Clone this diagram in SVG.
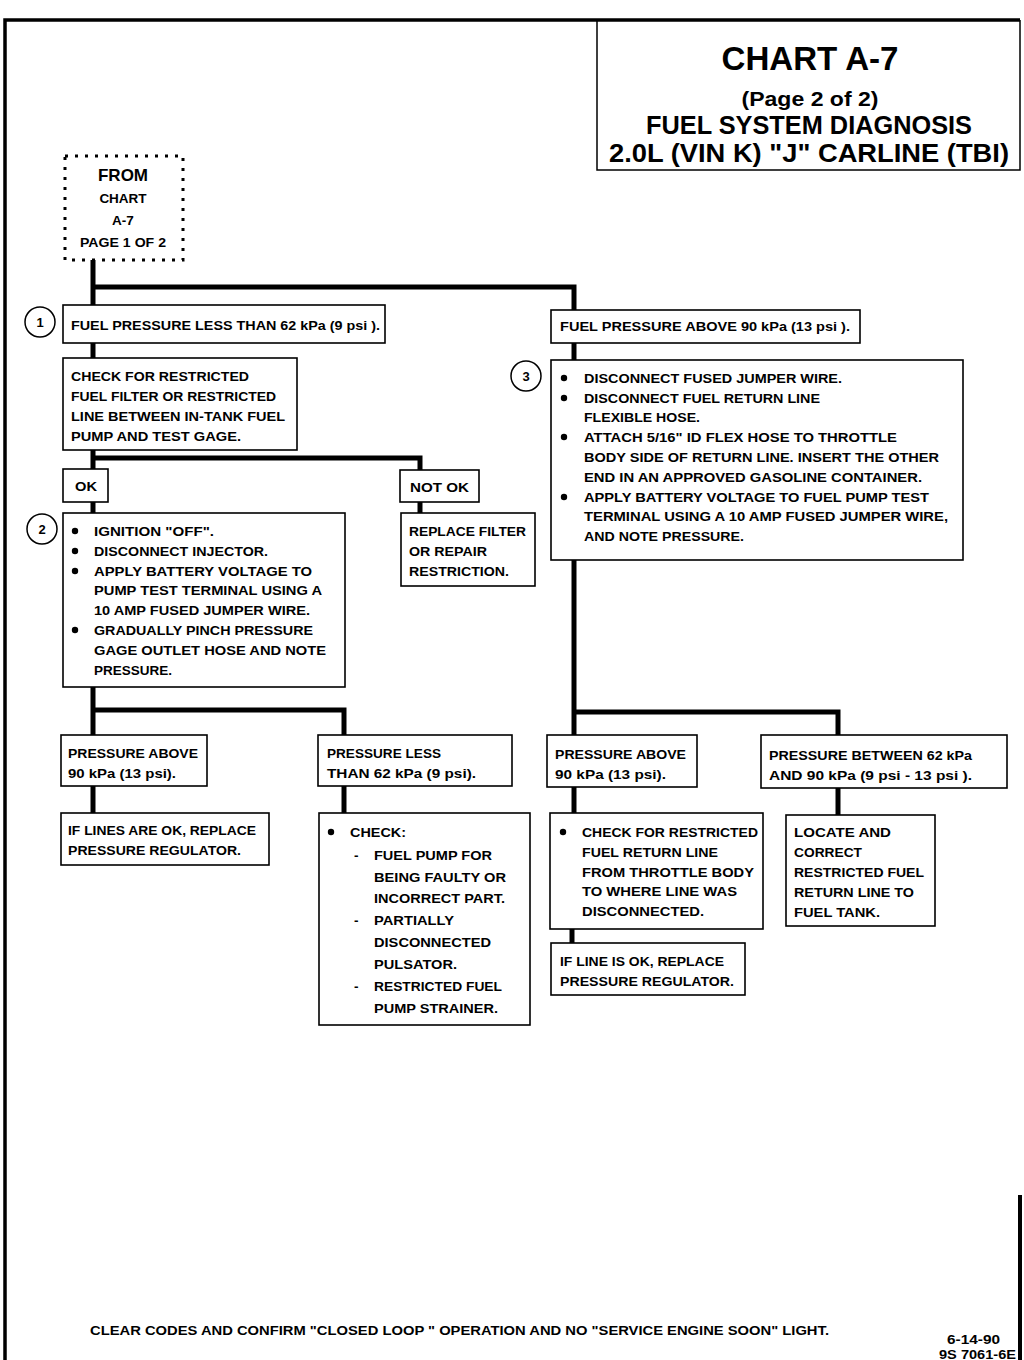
<svg xmlns="http://www.w3.org/2000/svg" width="1024" height="1360" viewBox="0 0 1024 1360">
<style>
text{font-family:"Liberation Sans",Arial,sans-serif;font-weight:bold;fill:#000}
.t{font-size:13.5px}
.box{fill:#fff;stroke:#000;stroke-width:1.6}
.conn{fill:none;stroke:#000;stroke-width:5;stroke-linejoin:miter;stroke-linecap:square}
.circ{fill:#fff;stroke:#000;stroke-width:1.5}
.num{font-size:13px;text-anchor:middle}
.title{text-anchor:middle}
</style>
<rect width="1024" height="1360" fill="#fff"/>
<g id="frame">
<path d="M5,1360 V20 H1020" fill="none" stroke="#000" stroke-width="3.5"/>
<path d="M597,20 V170 H1020 V20" fill="none" stroke="#000" stroke-width="1.5"/>
<path d="M1020,1195 V1360" fill="none" stroke="#000" stroke-width="4"/>
</g>
<g id="title">
<text class="title" x="810" y="70" font-size="33" textLength="177" lengthAdjust="spacingAndGlyphs">CHART A-7</text>
<text class="title" x="810" y="106" font-size="21" textLength="137" lengthAdjust="spacingAndGlyphs">(Page 2 of 2)</text>
<text class="title" x="809" y="134" font-size="25" textLength="326" lengthAdjust="spacingAndGlyphs">FUEL SYSTEM DIAGNOSIS</text>
<text class="title" x="809" y="162" font-size="25" textLength="400" lengthAdjust="spacingAndGlyphs">2.0L  (VIN K)  "J"  CARLINE  (TBI)</text>
</g>
<g id="connectors">
<path class="conn" d="M93,262 V305 M93,287 H574 V311"/>
<path class="conn" d="M93,343 V358"/>
<path class="conn" d="M93,450 V469 M93,458 H420 V470"/>
<path class="conn" d="M93,502 V513"/>
<path class="conn" d="M420,502 V513"/>
<path class="conn" d="M93,687 V735 M93,710 H344 V735"/>
<path class="conn" d="M93,786 V813"/>
<path class="conn" d="M344,786 V813"/>
<path class="conn" d="M574,343 V360"/>
<path class="conn" d="M574,560 V735 M574,712 H838 V735"/>
<path class="conn" d="M574,787 V813"/>
<path class="conn" d="M838,788 V815"/>
<path class="conn" d="M572,929 V943"/>
</g>
<g id="from">
<rect x="65" y="156" width="118" height="104" fill="#fff" stroke="#000" stroke-width="3" stroke-dasharray="3,7"/>
<text x="123" y="181" font-size="17" text-anchor="middle">FROM</text>
<text x="123" y="203" font-size="13.5" text-anchor="middle">CHART</text>
<text x="123" y="225" font-size="13.5" text-anchor="middle">A-7</text>
<text x="123" y="247" font-size="13.5" text-anchor="middle" textLength="86" lengthAdjust="spacingAndGlyphs">PAGE 1 OF 2</text>
</g>
<g id="n1">
<circle class="circ" cx="40" cy="322" r="15"/>
<text class="num" x="40" y="327">1</text>
<rect class="box" x="63" y="305" width="322" height="38"/>
<text class="t" x="71" y="330" textLength="309" lengthAdjust="spacingAndGlyphs">FUEL PRESSURE  LESS THAN 62 kPa (9 psi ).</text>
</g>
<g id="n1r">
<rect class="box" x="551" y="310" width="309" height="33"/>
<text class="t" x="560" y="331" textLength="290" lengthAdjust="spacingAndGlyphs">FUEL PRESSURE ABOVE 90 kPa (13 psi ).</text>
</g>
<g id="ncheck">
<rect class="box" x="63" y="358" width="234" height="92"/>
<text class="t" x="71" y="381" textLength="178" lengthAdjust="spacingAndGlyphs">CHECK FOR  RESTRICTED</text>
<text class="t" x="71" y="401" textLength="205" lengthAdjust="spacingAndGlyphs">FUEL FILTER OR RESTRICTED</text>
<text class="t" x="71" y="421" textLength="214" lengthAdjust="spacingAndGlyphs">LINE BETWEEN IN-TANK FUEL</text>
<text class="t" x="71" y="441" textLength="170" lengthAdjust="spacingAndGlyphs">PUMP AND TEST GAGE.</text>
</g>
<g id="nok">
<rect class="box" x="63" y="469" width="45" height="33"/>
<text class="t" x="75" y="491" textLength="22" lengthAdjust="spacingAndGlyphs">OK</text>
</g>
<g id="nnotok">
<rect class="box" x="400" y="470" width="79" height="32"/>
<text class="t" x="410" y="492" textLength="59" lengthAdjust="spacingAndGlyphs">NOT OK</text>
</g>
<g id="nreplace">
<rect class="box" x="401" y="513" width="134" height="73"/>
<text class="t" x="409" y="536" textLength="117" lengthAdjust="spacingAndGlyphs">REPLACE FILTER</text>
<text class="t" x="409" y="556" textLength="78" lengthAdjust="spacingAndGlyphs">OR REPAIR</text>
<text class="t" x="409" y="576" textLength="100" lengthAdjust="spacingAndGlyphs">RESTRICTION.</text>
</g>
<g id="n2">
<circle class="circ" cx="42" cy="529" r="15"/>
<text class="num" x="42" y="534">2</text>
<rect class="box" x="63" y="513" width="282" height="174"/>
<circle cx="75" cy="531" r="3.2"/>
<circle cx="75" cy="551" r="3.2"/>
<circle cx="75" cy="571" r="3.2"/>
<circle cx="75" cy="630" r="3.2"/>
<text class="t" x="94" y="536" textLength="120" lengthAdjust="spacingAndGlyphs">IGNITION "OFF".</text>
<text class="t" x="94" y="556" textLength="174" lengthAdjust="spacingAndGlyphs">DISCONNECT INJECTOR.</text>
<text class="t" x="94" y="576" textLength="218" lengthAdjust="spacingAndGlyphs">APPLY BATTERY VOLTAGE TO</text>
<text class="t" x="94" y="595" textLength="228" lengthAdjust="spacingAndGlyphs">PUMP TEST TERMINAL USING A</text>
<text class="t" x="94" y="615" textLength="216" lengthAdjust="spacingAndGlyphs">10 AMP FUSED JUMPER WIRE.</text>
<text class="t" x="94" y="635" textLength="219" lengthAdjust="spacingAndGlyphs">GRADUALLY PINCH PRESSURE</text>
<text class="t" x="94" y="655" textLength="232" lengthAdjust="spacingAndGlyphs">GAGE OUTLET HOSE AND NOTE</text>
<text class="t" x="94" y="675" textLength="78" lengthAdjust="spacingAndGlyphs">PRESSURE.</text>
</g>
<g id="nabove1">
<rect class="box" x="61" y="735" width="146" height="51"/>
<text class="t" x="68" y="758" textLength="130" lengthAdjust="spacingAndGlyphs">PRESSURE ABOVE</text>
<text class="t" x="68" y="778" textLength="108" lengthAdjust="spacingAndGlyphs">90 kPa  (13 psi).</text>
</g>
<g id="nless">
<rect class="box" x="318" y="735" width="194" height="51"/>
<text class="t" x="327" y="758" textLength="114" lengthAdjust="spacingAndGlyphs">PRESSURE LESS</text>
<text class="t" x="327" y="778" textLength="149" lengthAdjust="spacingAndGlyphs">THAN 62 kPa  (9 psi).</text>
</g>
<g id="nreg1">
<rect class="box" x="61" y="813" width="208" height="52"/>
<text class="t" x="68" y="835" textLength="188" lengthAdjust="spacingAndGlyphs">IF LINES ARE OK, REPLACE</text>
<text class="t" x="68" y="855" textLength="173" lengthAdjust="spacingAndGlyphs">PRESSURE REGULATOR.</text>
</g>
<g id="ncheck2">
<rect class="box" x="319" y="813" width="211" height="212"/>
<circle cx="331" cy="832" r="3.2"/>
<text class="t" x="350" y="837" textLength="56" lengthAdjust="spacingAndGlyphs">CHECK:</text>
<text class="t" x="354" y="860">-</text>
<text class="t" x="374" y="860" textLength="118" lengthAdjust="spacingAndGlyphs">FUEL PUMP FOR</text>
<text class="t" x="374" y="882" textLength="132" lengthAdjust="spacingAndGlyphs">BEING FAULTY OR</text>
<text class="t" x="374" y="903" textLength="131" lengthAdjust="spacingAndGlyphs">INCORRECT PART.</text>
<text class="t" x="354" y="925">-</text>
<text class="t" x="374" y="925" textLength="80" lengthAdjust="spacingAndGlyphs">PARTIALLY</text>
<text class="t" x="374" y="947" textLength="117" lengthAdjust="spacingAndGlyphs">DISCONNECTED</text>
<text class="t" x="374" y="969" textLength="83" lengthAdjust="spacingAndGlyphs">PULSATOR.</text>
<text class="t" x="354" y="991">-</text>
<text class="t" x="374" y="991" textLength="128" lengthAdjust="spacingAndGlyphs">RESTRICTED FUEL</text>
<text class="t" x="374" y="1013" textLength="124" lengthAdjust="spacingAndGlyphs">PUMP STRAINER.</text>
</g>
<g id="n3">
<circle class="circ" cx="526" cy="376" r="15"/>
<text class="num" x="526" y="381">3</text>
<rect class="box" x="551" y="360" width="412" height="200"/>
<circle cx="564" cy="378" r="3.2"/>
<circle cx="564" cy="398" r="3.2"/>
<circle cx="564" cy="437" r="3.2"/>
<circle cx="564" cy="497" r="3.2"/>
<text class="t" x="584" y="383" textLength="258" lengthAdjust="spacingAndGlyphs">DISCONNECT FUSED JUMPER WIRE.</text>
<text class="t" x="584" y="403" textLength="236" lengthAdjust="spacingAndGlyphs">DISCONNECT FUEL RETURN LINE</text>
<text class="t" x="584" y="422" textLength="116" lengthAdjust="spacingAndGlyphs">FLEXIBLE HOSE.</text>
<text class="t" x="584" y="442" textLength="313" lengthAdjust="spacingAndGlyphs">ATTACH 5/16" ID FLEX HOSE TO THROTTLE</text>
<text class="t" x="584" y="462" textLength="355" lengthAdjust="spacingAndGlyphs">BODY SIDE OF RETURN LINE.  INSERT THE OTHER</text>
<text class="t" x="584" y="482" textLength="338" lengthAdjust="spacingAndGlyphs">END IN AN APPROVED GASOLINE CONTAINER.</text>
<text class="t" x="584" y="502" textLength="345" lengthAdjust="spacingAndGlyphs">APPLY BATTERY VOLTAGE TO FUEL PUMP TEST</text>
<text class="t" x="584" y="521" textLength="364" lengthAdjust="spacingAndGlyphs">TERMINAL USING A 10 AMP FUSED JUMPER WIRE,</text>
<text class="t" x="584" y="541" textLength="160" lengthAdjust="spacingAndGlyphs">AND NOTE PRESSURE.</text>
</g>
<g id="nabove2">
<rect class="box" x="547" y="735" width="150" height="52"/>
<text class="t" x="555" y="759" textLength="131" lengthAdjust="spacingAndGlyphs">PRESSURE ABOVE</text>
<text class="t" x="555" y="779" textLength="111" lengthAdjust="spacingAndGlyphs">90 kPa  (13 psi).</text>
</g>
<g id="nbetween">
<rect class="box" x="761" y="735" width="246" height="53"/>
<text class="t" x="769" y="760" textLength="203" lengthAdjust="spacingAndGlyphs">PRESSURE BETWEEN 62 kPa</text>
<text class="t" x="769" y="780" textLength="203" lengthAdjust="spacingAndGlyphs">AND  90 kPa (9 psi  - 13 psi ).</text>
</g>
<g id="ncheck3">
<rect class="box" x="550" y="813" width="213" height="116"/>
<circle cx="563" cy="832" r="3.2"/>
<text class="t" x="582" y="837" textLength="176" lengthAdjust="spacingAndGlyphs">CHECK FOR RESTRICTED</text>
<text class="t" x="582" y="857" textLength="136" lengthAdjust="spacingAndGlyphs">FUEL RETURN LINE</text>
<text class="t" x="582" y="877" textLength="172" lengthAdjust="spacingAndGlyphs">FROM THROTTLE BODY</text>
<text class="t" x="582" y="896" textLength="155" lengthAdjust="spacingAndGlyphs">TO WHERE LINE WAS</text>
<text class="t" x="582" y="916" textLength="122" lengthAdjust="spacingAndGlyphs">DISCONNECTED.</text>
</g>
<g id="nlocate">
<rect class="box" x="786" y="815" width="149" height="111"/>
<text class="t" x="794" y="837" textLength="97" lengthAdjust="spacingAndGlyphs">LOCATE AND</text>
<text class="t" x="794" y="857" textLength="68" lengthAdjust="spacingAndGlyphs">CORRECT</text>
<text class="t" x="794" y="877" textLength="130" lengthAdjust="spacingAndGlyphs">RESTRICTED FUEL</text>
<text class="t" x="794" y="897" textLength="120" lengthAdjust="spacingAndGlyphs">RETURN LINE TO</text>
<text class="t" x="794" y="917" textLength="86" lengthAdjust="spacingAndGlyphs">FUEL TANK.</text>
</g>
<g id="nreg2">
<rect class="box" x="551" y="943" width="194" height="52"/>
<text class="t" x="560" y="966" textLength="164" lengthAdjust="spacingAndGlyphs">IF LINE IS OK, REPLACE</text>
<text class="t" x="560" y="986" textLength="174" lengthAdjust="spacingAndGlyphs">PRESSURE REGULATOR.</text>
</g>
<g id="footer">
<text class="t" x="90" y="1335" textLength="739" lengthAdjust="spacingAndGlyphs">CLEAR CODES AND CONFIRM "CLOSED LOOP " OPERATION AND NO "SERVICE ENGINE SOON" LIGHT.</text>
<text class="t" x="1000" y="1344" text-anchor="end" textLength="53" lengthAdjust="spacingAndGlyphs">6-14-90</text>
<text class="t" x="1016" y="1359" text-anchor="end" textLength="77" lengthAdjust="spacingAndGlyphs">9S 7061-6E</text>
</g>
</svg>
